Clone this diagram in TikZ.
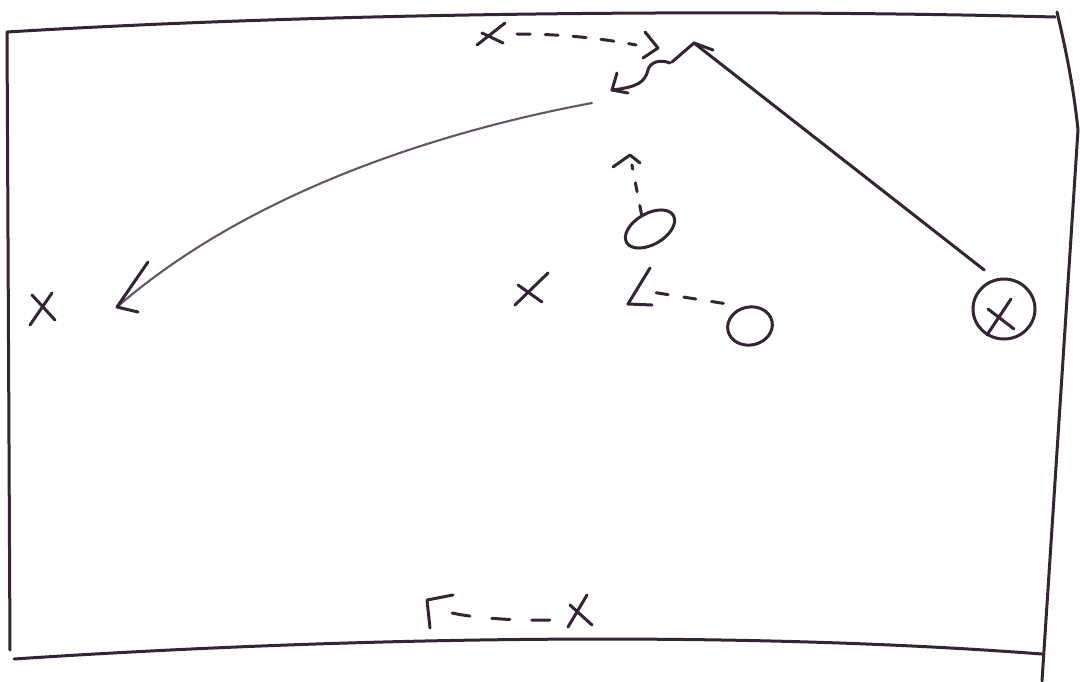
\documentclass[tikz,border=0pt]{standalone}
\usetikzlibrary{shapes.geometric}
\definecolor{ink}{RGB}{52,36,52}
\definecolor{inklight}{RGB}{100,86,100}
\begin{document}
\begin{tikzpicture}[x=1pt,y=-1pt,line cap=round,line join=round,
  pen/.style={draw=ink,line width=3pt},
  softpen/.style={draw=inklight,line width=2.1pt},
  dashpen/.style={draw=ink,line width=3pt,dash pattern=on 13pt off 15pt},
  player/.style={inner sep=0pt,minimum width=24pt,minimum height=30pt},
  opp/.style={ellipse,draw=ink,line width=3pt,inner sep=0pt}]
\useasboundingbox (0,0) rectangle (1080,681);
\fill[white] (0,0) rectangle (1080,681);
% border
\draw[pen] (1055,17) .. controls (700,8) and (300,14) .. (7,32) -- (10,650);
\draw[pen] (1057,12) .. controls (1066,50) and (1074,90) .. (1078,130) -- (1042,681);
\draw[pen] (14,659) .. controls (300,640) and (700,628) .. (1042,654);
% players
\node[player] (xl) at (43,309) {};
\node[player,minimum width=33pt,minimum height=32pt] (xm) at (531,289) {};
\node[player] (xb) at (580,611) {};
\node[player,minimum width=28pt,minimum height=22pt] (xt) at (491,34) {};
\node[opp,minimum width=62pt,minimum height=60pt] (xc) at (1004,309) {};
\node[opp,minimum width=54pt,minimum height=31pt,rotate=30] (o1) at (650,229) {};
\node[opp,minimum width=45pt,minimum height=38pt,rotate=12] (o2) at (750,326) {};
\draw[pen,shift={(xl.center)}] (-13,16) -- (9,-16) (-11,-14) -- (12,11);
\draw[pen,shift={(xm.center)}] (-16,16) -- (17,-16) (-13,-4) -- (11,13);
\draw[pen,shift={(xb.center)}] (-10,-6) -- (12,14) (-12,16) -- (7,-16);
\draw[pen,shift={(xt.center)}] (-14,11) -- (14,-11) (-9,-1) -- (12,9);
\draw[pen,shift={(xc.center)}] (-17,26) -- (7,-10) (-16,0) -- (10,20);
% free ends
\coordinate (e1) at (636,45);
\coordinate (t1) at (658,48);
\coordinate (t2) at (694,43);
\coordinate (t3) at (612,90);
\coordinate (s4) at (592,103);
\coordinate (t4) at (117,307);
\coordinate (t5) at (630,155);
\coordinate (e6) at (645,291);
\coordinate (t6) at (628,304);
\coordinate (e7) at (448,612);
\coordinate (t7) at (427,600);
% top dashed run
\draw[dashpen,shorten <=12pt] (xt.east) .. controls (560,34) and (600,38) .. (e1);
\draw[pen,shift={(t1)}] (-13,-16) -- (0,0) -- (-15,10);
% run from circled X
\draw[pen,shorten <=14pt] (xc.106) -- (t2);
\draw[pen,shift={(t2)}] (-22,19) -- (0,0) -- (19,7);
% dribble
\draw[pen] (670,63) .. controls (660,59) and (650,62) .. (648,70)
  .. controls (645,82) and (638,87) .. (t3);
\draw[pen,shift={(t3)}] (5,-17) -- (0,0) -- (16,3);
% long pass
\draw[softpen] (s4) .. controls (420,135) and (240,200) .. (t4);
\draw[pen,shift={(t4)}] (31,-45) -- (0,0) -- (21,5);
% O1 run
\draw[dashpen,dash pattern=on 9pt off 14pt,shorten >=10pt] (o1.north) -- (t5);
\draw[pen,shift={(t5)}] (-17,12) -- (0,0) -- (10,8);
% O2 run
\draw[dashpen,dash pattern=on 12pt off 16pt] ([shift={(-7,-12)}]o2.north west) -- (e6);
\draw[pen,shift={(t6)}] (22,-36) -- (0,0) -- (24,1);
% bottom run
\draw[dashpen,dash pattern=on 18pt off 22pt] ([shift={(-18,9)}]xb.west) .. controls (520,621) and (470,618) .. (e7);
\draw[pen,shift={(t7)}] (3,28) -- (0,0) -- (26,-5);
\end{tikzpicture}
\end{document}
